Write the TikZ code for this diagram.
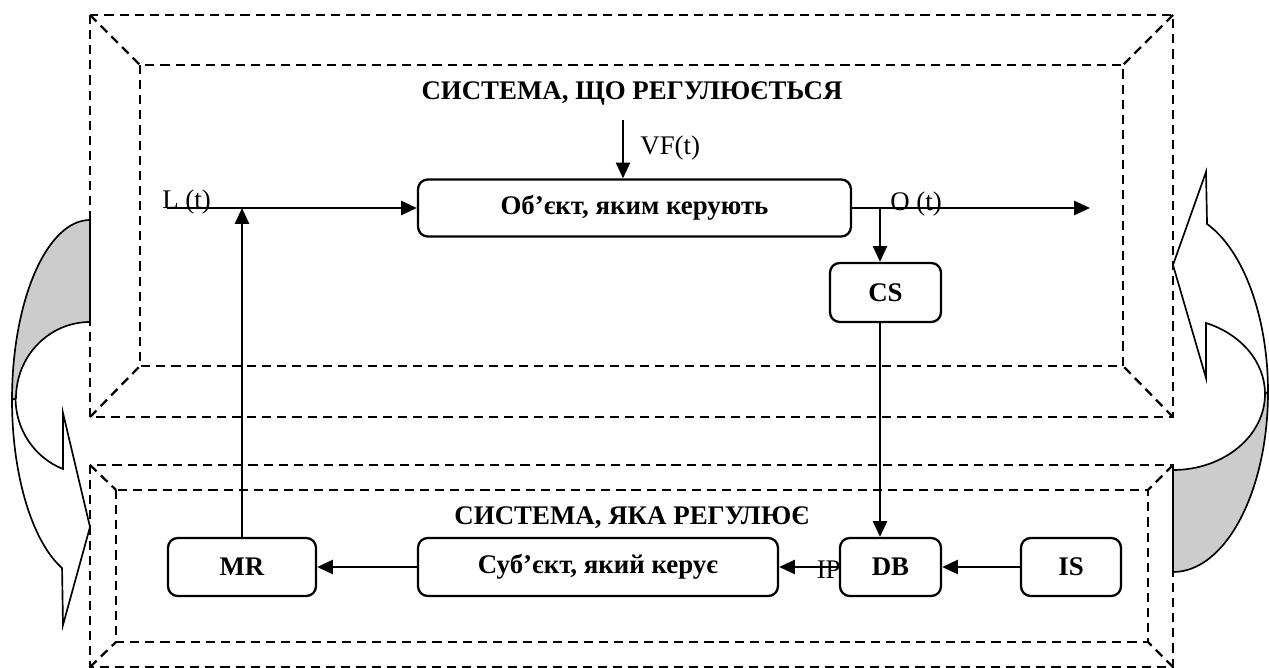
\documentclass[tikz,border=0pt]{standalone}
\usepackage{fontspec}
\setmainfont{Liberation Serif}
\usetikzlibrary{arrows.meta}
\tikzset{
  frame/.style={line width=1.3pt, dash pattern=on 5.2pt off 3.4pt},
  box/.style={draw, line width=1.3pt, rounded corners=5.5pt, inner sep=0pt, font=\fontsize{15.3pt}{18pt}\selectfont\bfseries},
  conn/.style={line width=1.3pt, -{Triangle[length=9pt,width=8pt]}},
  curve/.style={line width=0.95pt, line join=miter},
  lbl/.style={inner sep=0pt, font=\fontsize{15.3pt}{18pt}\selectfont},
  ttl/.style={inner sep=0pt, font=\fontsize{15.3pt}{18pt}\selectfont\bfseries}
}
\begin{document}
\begin{tikzpicture}[x=0.02cm, y=-0.02cm]
\useasboundingbox (0,0) rectangle (1269,668);
% frames
\draw[frame] (90,15) rectangle (1173,417);
\draw[frame] (140,65) rectangle (1123,366);
\draw[frame] (90,15) -- (140,65);
\draw[frame] (1173,15) -- (1123,65);
\draw[frame] (90,417) -- (140,366);
\draw[frame] (1173,417) -- (1123,366);
\draw[frame] (90,465) rectangle (1173,667);
\draw[frame] (116,490) rectangle (1148,642);
\draw[frame] (90,465) -- (116,490);
\draw[frame] (1173,465) -- (1148,490);
\draw[frame] (90,667) -- (116,642);
\draw[frame] (1173,667) -- (1148,642);
% curved arrows
\draw[curve, fill=white] (12,400) arc[start angle=180, end angle=111, x radius=78, y radius=180] -- (63,625) -- (90,527) -- (63,413) -- (63,469) arc[start angle=111, end angle=180, x radius=74, y radius=76] -- cycle;
\draw[curve, fill=gray!40] (90,220) arc[start angle=270, end angle=180, x radius=78, y radius=180] -- (16,398) arc[start angle=180, end angle=270, x radius=74, y radius=76] -- cycle;
\draw[curve, fill=white] (1268,392) arc[start angle=0, end angle=-69, x radius=95, y radius=180] -- (1206,172) -- (1173,265) -- (1206,378) -- (1206,323) arc[start angle=-69, end angle=0, x radius=92, y radius=76] -- cycle;
\draw[curve, fill=gray!40] (1173,572) arc[start angle=90, end angle=0, x radius=95, y radius=180] -- (1265,394) arc[start angle=0, end angle=90, x radius=92, y radius=76] -- cycle;
% titles
\node[ttl] (t1) at (632,93) {СИСТЕМА, ЩО РЕГУЛЮЄТЬСЯ};
\node[ttl] (t2) at (632,518) {СИСТЕМА, ЯКА РЕГУЛЮЄ};
% boxes
\node[box, minimum width=8.66cm, minimum height=1.14cm] (obj) at (634.5,208) {Об’єкт, яким керують};
\node[box, minimum width=2.22cm, minimum height=1.18cm] (cs) at (885.5,292.5) {CS};
\node[box, minimum width=2.02cm, minimum height=1.16cm] (db) at (890.5,567) {DB};
\node[box, minimum width=2.0cm, minimum height=1.16cm] (is) at (1071,567) {IS};
\node[box, minimum width=7.2cm, minimum height=1.16cm] (subj) at (598,567) {Суб’єкт, який керує};
\node[box, minimum width=2.96cm, minimum height=1.16cm] (mr) at (242,567) {MR};
% coordinates
\coordinate (lin) at (167,208);
\coordinate (vf) at (623,120);
\coordinate (out) at (1090,208);
\coordinate (br) at (880,208);
% labels
\node[lbl, anchor=base west] (lt) at (162,209) {L (t)};
\node[lbl, anchor=base west] (ot) at (890,211) {O (t)};
\node[lbl, anchor=west] (vft) at (640,148) {VF(t)};
\node[lbl, anchor=base east] (ip) at (841,579) {IP};
% connectors
\draw[conn] (lin) -- (obj.west |- lin);
\draw[conn] (mr.north) -- (mr.north |- lin);
\draw[conn] (vf) -- (vf |- obj.north);
\draw[conn] (obj.east |- out) -- (out);
\draw[conn] (br) -- (br |- cs.north);
\draw[conn] (br |- cs.south) -- (br |- db.north);
\draw[conn] (is.west) -- (db.east);
\draw[conn] (db.west) -- (subj.east);
\draw[conn] (subj.west) -- (mr.east);
\end{tikzpicture}
\end{document}
